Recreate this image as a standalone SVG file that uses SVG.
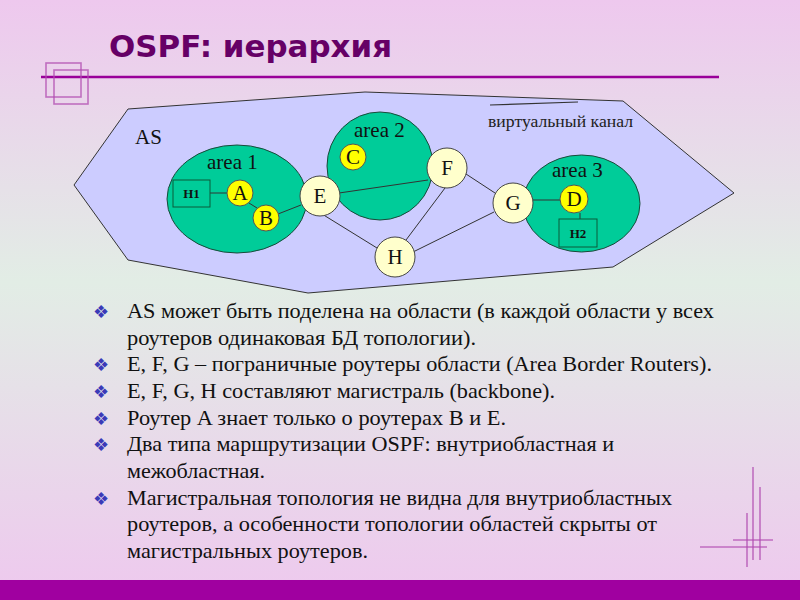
<svg xmlns="http://www.w3.org/2000/svg" width="800" height="600" viewBox="0 0 800 600">
<defs>
<linearGradient id="bg" x1="0" y1="0" x2="0" y2="1">
<stop offset="0" stop-color="#EEC8EE"/>
<stop offset="0.47" stop-color="#E2EDE5"/>
<stop offset="1" stop-color="#EEC8EE"/>
</linearGradient>
<style>
.area{fill:#00CC99;stroke:#1A4A3A;stroke-width:1}
.rt{fill:#FFFFCC;stroke:#444;stroke-width:1}
.yl{fill:#FFFF00;stroke:#555;stroke-width:1}
.box{fill:none;stroke:#0A5A3A;stroke-width:1}
.lbl{font-family:"Liberation Serif",serif;font-size:21px;fill:#111;text-anchor:middle}
.hl{font-family:"Liberation Serif",serif;font-size:13px;font-weight:bold;fill:#111;text-anchor:middle}
.ar{font-family:"Liberation Serif",serif;font-size:21px;fill:#111}
.bt{font-family:"Liberation Serif",serif;font-size:21.5px;fill:#111}
.bl{font-family:"DejaVu Sans",sans-serif;font-size:18px;fill:#3A3AB8}
.con line{stroke:#333;stroke-width:1}
.deco{stroke:#B04CB0;stroke-width:1.6;stroke-opacity:0.75;fill:none}
</style>
</defs>
<rect x="0" y="0" width="800" height="600" fill="url(#bg)"/>
<rect x="0" y="580" width="800" height="20" fill="#A000A0"/>
<!-- title -->
<text x="109" y="57" font-family="DejaVu Sans, sans-serif" font-weight="bold" font-size="30" fill="#660066" textLength="283" lengthAdjust="spacingAndGlyphs">OSPF: иерархия</text>
<line x1="41" y1="77" x2="719" y2="77" stroke="#990099" stroke-width="2.5"/>
<rect class="deco" x="46" y="63" width="35" height="34"/>
<rect class="deco" x="54" y="70" width="34" height="34"/>
<!-- bottom-right decoration -->
<g class="deco">
<line x1="753" y1="467" x2="753" y2="560"/>
<line x1="760" y1="487" x2="760" y2="560"/>
<line x1="747" y1="513" x2="747" y2="567"/>
<line x1="733" y1="540" x2="773" y2="540"/>
<line x1="700" y1="547" x2="767" y2="547"/>
</g>
<!-- AS -->
<g id="as">
<polygon points="128,109 365,92 623,101 734,193 613,267 308,293 128,260 74,185" fill="#CCCCFF" stroke="#333" stroke-width="1"/>
<text x="135" y="144" class="ar">AS</text>
</g>
<g id="virtual">
<line x1="490" y1="105" x2="578" y2="102" stroke="#333" stroke-width="1.2"/>
<text x="488" y="127" font-family="Liberation Serif, serif" font-size="17" fill="#222" textLength="145" lengthAdjust="spacingAndGlyphs">виртуальный канал</text>
</g>
<g id="area1">
<ellipse class="area" cx="237" cy="199" rx="70" ry="54"/>
<text x="207" y="169" class="ar">area 1</text>
</g>
<g id="area2">
<ellipse class="area" cx="380" cy="166" rx="53" ry="54"/>
<text x="354" y="137" class="ar">area 2</text>
</g>
<g id="area3">
<ellipse class="area" cx="581.5" cy="203.5" rx="58.5" ry="48.5"/>
<text x="552" y="177" class="ar">area 3</text>
</g>
<g class="con" id="connectors">
<line x1="210" y1="193" x2="227" y2="193"/>
<line x1="249" y1="203" x2="257" y2="208"/>
<line x1="278" y1="214" x2="301" y2="205"/>
<line x1="339" y1="193" x2="428" y2="180"/>
<line x1="322" y1="214" x2="377" y2="248"/>
<line x1="445" y1="188" x2="406" y2="240"/>
<line x1="466" y1="174" x2="495" y2="193"/>
<line x1="413" y1="252" x2="494" y2="212"/>
<line x1="533" y1="200" x2="560" y2="200"/>
<line x1="580" y1="213" x2="580" y2="219"/>
</g>
<g id="H1"><rect class="box" x="173" y="180" width="37" height="27"/><text x="191.5" y="198" class="hl">H1</text></g>
<g id="A"><circle class="yl" cx="240" cy="193" r="13"/><text x="240" y="200" class="lbl">A</text></g>
<g id="B"><circle class="yl" cx="266" cy="218" r="13"/><text x="266" y="225" class="lbl">B</text></g>
<g id="C"><circle class="yl" cx="353" cy="157" r="13"/><text x="353" y="164" class="lbl">C</text></g>
<g id="E"><circle class="rt" cx="320" cy="196" r="20"/><text x="320" y="203" class="lbl">E</text></g>
<g id="F"><circle class="rt" cx="447" cy="168" r="20"/><text x="447" y="175" class="lbl">F</text></g>
<g id="H"><circle class="rt" cx="395" cy="257" r="20"/><text x="395" y="264" class="lbl">H</text></g>
<g id="G"><circle class="rt" cx="513" cy="203" r="20"/><text x="513" y="210" class="lbl">G</text></g>
<g id="D"><circle class="yl" cx="574" cy="199" r="14"/><text x="574" y="206" class="lbl">D</text></g>
<g id="H2"><rect class="box" x="559" y="219" width="38" height="28"/><text x="578" y="238" class="hl">H2</text></g>
<!-- bullets -->
<g id="bullets">
<text class="bl" x="93" y="318">❖</text>
<text class="bl" x="93" y="371">❖</text>
<text class="bl" x="93" y="398">❖</text>
<text class="bl" x="93" y="425">❖</text>
<text class="bl" x="93" y="451">❖</text>
<text class="bl" x="93" y="505">❖</text>
<text class="bt" x="127" y="318" textLength="587" lengthAdjust="spacingAndGlyphs">AS может быть поделена на области (в каждой области у всех</text>
<text class="bt" x="127" y="345" textLength="349" lengthAdjust="spacingAndGlyphs">роутеров одинаковая БД топологии).</text>
<text class="bt" x="127" y="371" textLength="585" lengthAdjust="spacingAndGlyphs">E, F, G – пограничные роутеры области (Area Border Routers).</text>
<text class="bt" x="127" y="398" textLength="428" lengthAdjust="spacingAndGlyphs">E, F, G, H составляют магистраль (backbone).</text>
<text class="bt" x="127" y="425" textLength="379" lengthAdjust="spacingAndGlyphs">Роутер A знает только о роутерах B и E.</text>
<text class="bt" x="127" y="451" textLength="487" lengthAdjust="spacingAndGlyphs">Два типа маршрутизации OSPF: внутриобластная и</text>
<text class="bt" x="127" y="478" textLength="138" lengthAdjust="spacingAndGlyphs">межобластная.</text>
<text class="bt" x="127" y="505" textLength="545" lengthAdjust="spacingAndGlyphs">Магистральная топология не видна для внутриобластных</text>
<text class="bt" x="127" y="531" textLength="530" lengthAdjust="spacingAndGlyphs">роутеров, а особенности топологии областей скрыты от</text>
<text class="bt" x="127" y="558" textLength="241" lengthAdjust="spacingAndGlyphs">магистральных роутеров.</text>
</g>
</svg>
